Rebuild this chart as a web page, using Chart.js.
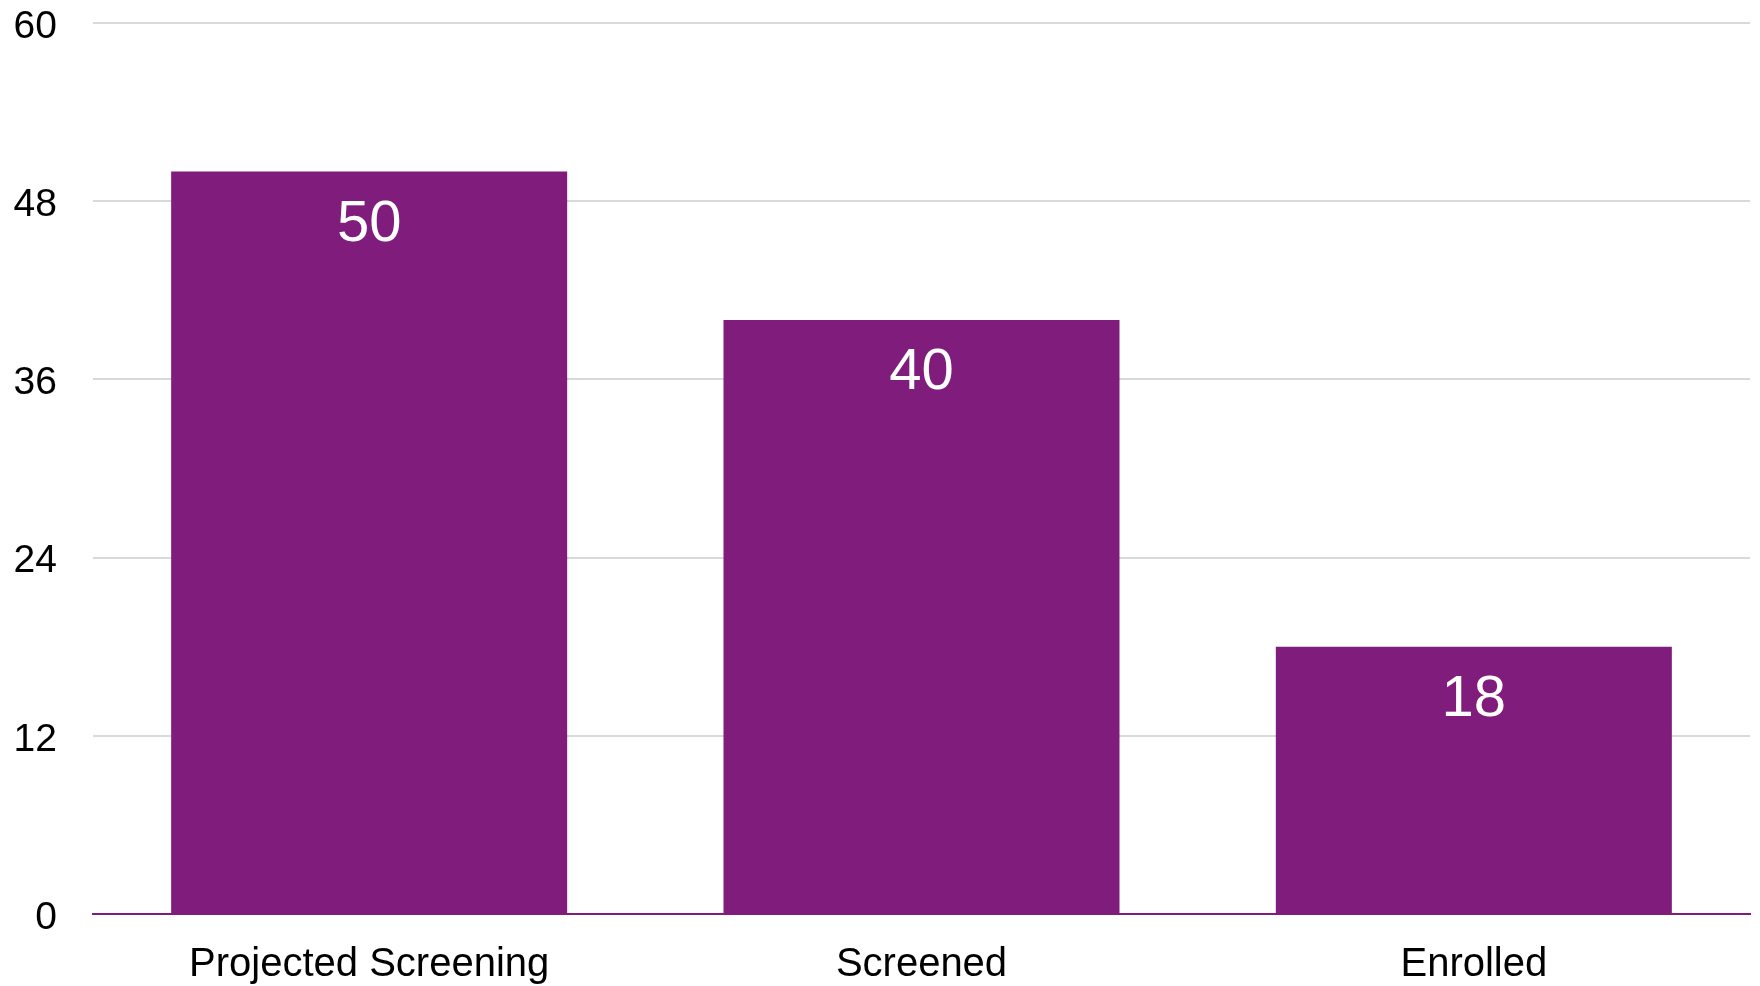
<!DOCTYPE html>
<html>
<head>
<meta charset="utf-8">
<script src="https://cdn.jsdelivr.net/npm/chart.js@4.4.1/dist/chart.umd.min.js"></script>
<style>
  html, body { margin: 0; padding: 0; background: #fff; }
  #wrap { width: 1760px; height: 986px; }
</style>
</head>
<body>
<div id="wrap"><canvas id="enrollChart"></canvas></div>
<script>
const categories = ["Projected Screening", "Screened", "Enrolled"];
const counts = [50, 40, 18];
const tickValues = [0, 12, 24, 36, 48, 60];

const purple = "#801C7C";

// draws the value inside the top of each bar
const barValues = {
  id: "barValues",
  afterDatasetsDraw(chart) {
    const ctx = chart.ctx;
    const meta = chart.getDatasetMeta(0);
    ctx.save();
    ctx.fillStyle = "#fff";
    ctx.font = "58px 'Liberation Sans', Arial, sans-serif";
    ctx.textAlign = "center";
    ctx.textBaseline = "middle";
    meta.data.forEach((bar, i) => {
      ctx.fillText(String(counts[i]), bar.x, bar.y + 53);
    });
    ctx.restore();
  }
};

new Chart(document.getElementById("enrollChart"), {
  type: "bar",
  data: {
    labels: categories,
    datasets: [{
      data: counts,
      backgroundColor: purple,
      barPercentage: 0.717,
      categoryPercentage: 1
    }]
  },
  options: {
    responsive: true,
    maintainAspectRatio: false,
    animation: false,
    layout: { padding: { top: 23, right: 10, left: 0, bottom: 0 } },
    plugins: {
      legend: { display: false },
      tooltip: { enabled: false }
    },
    scales: {
      x: {
        grid: { display: false, drawTicks: false },
        border: { display: true, color: purple, width: 2 },
        ticks: {
          color: "#000",
          padding: 27,
          font: { family: "'Liberation Sans', Arial, sans-serif", size: 40 }
        },
        afterFit(scale) {
          scale.height = 72;
          scale.paddingLeft = 0;
          scale.paddingRight = 0;
        }
      },
      y: {
        min: 0,
        max: 60,
        afterBuildTicks(scale) {
          scale.ticks = tickValues.map(v => ({ value: v }));
        },
        grid: {
          color: ctx => ctx.tick && ctx.tick.value === 0 ? "rgba(0,0,0,0)" : "#D9D9D9",
          lineWidth: 2,
          drawTicks: false
        },
        border: { display: false },
        ticks: {
          color: "#000",
          padding: 36,
          labelOffset: 4,
          font: { family: "'Liberation Sans', Arial, sans-serif", size: 39 }
        },
        afterFit(scale) {
          scale.width = 93;
          scale.paddingTop = 0;
          scale.paddingBottom = 0;
        }
      }
    }
  },
  plugins: [barValues]
});
</script>
</body>
</html>
